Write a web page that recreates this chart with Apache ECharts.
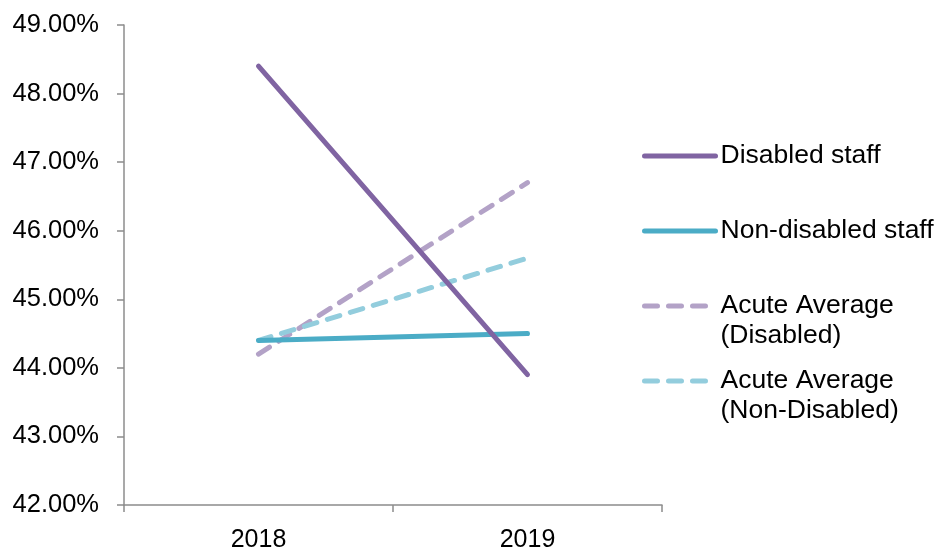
<!DOCTYPE html>
<html>
<head>
<meta charset="utf-8">
<title>Staff percentages 2018–2019</title>
<script src="https://cdn.jsdelivr.net/npm/echarts@6/dist/echarts.min.js"></script>
<style>
  html, body { margin: 0; padding: 0; background: #ffffff; }
  #chart { width: 938px; height: 549px; }
</style>
</head>
<body>
<div id="chart"></div>
<script>
// Years on the category axis
const years = ['2018', '2019'];

// Percentages per series
const disabledStaff = [48.4, 43.9];
const nonDisabledStaff = [44.4, 44.5];
const acuteAvgDisabled = [44.2, 46.7];
const acuteAvgNonDisabled = [44.4, 45.6];

// Series names as shown in the legend
const seriesNames = [
  'Disabled staff',
  'Non-disabled staff',
  'Acute Average\n(Disabled)',
  'Acute Average\n(Non-Disabled)'
];

// Value axis range
const yMin = 42;
const yMax = 49;
const yStep = 1;

const FONT = '"Liberation Sans", Arial, sans-serif';
const AXIS_COLOR = '#8c8c8c';
const LINE_W = 5;
const DASH = [13, 11];

const chart = echarts.init(document.getElementById('chart'), null, { renderer: 'canvas' });

function lineSeries(name, data, color, dashed) {
  return {
    name: name,
    type: 'line',
    data: data,
    symbol: 'none',
    silent: true,
    animation: false,
    lineStyle: {
      color: color,
      width: LINE_W,
      type: dashed ? DASH : 'solid',
      cap: 'round'
    },
    itemStyle: { color: color }
  };
}

// One legend block per entry so each row sits at its own height;
// two-line entries get an empty leading line so the key aligns with the first text line.
function legendItem(name, top, dashed, multiLine) {
  return {
    data: [name],
    left: 642,
    top: top,
    padding: 0,
    itemWidth: 71,
    itemHeight: 2,
    itemGap: 0,
    selectedMode: false,
    itemStyle: { opacity: 0 },
    lineStyle: { width: LINE_W, type: dashed ? DASH : 'solid', cap: 'round' },
    formatter: multiLine ? function (n) { return '\n' + n; } : '{name}',
    textStyle: {
      fontFamily: FONT,
      fontSize: 26.5,
      color: '#000000',
      lineHeight: 30
    }
  };
}

chart.setOption({
  backgroundColor: '#ffffff',
  animation: false,
  grid: {
    left: 124, right: 276, top: 25, bottom: 44,
    containLabel: false,
    outerBoundsMode: 'none'
  },
  xAxis: {
    type: 'category',
    data: years,
    boundaryGap: true,
    axisLine: { lineStyle: { color: AXIS_COLOR, width: 1.5 } },
    axisTick: { show: true, length: 7, lineStyle: { color: AXIS_COLOR, width: 1.5 } },
    axisLabel: { fontFamily: FONT, fontSize: 25, color: '#000000', margin: 23 },
    splitLine: { show: false }
  },
  yAxis: {
    type: 'value',
    min: yMin,
    max: yMax,
    interval: yStep,
    axisLine: { show: true, lineStyle: { color: AXIS_COLOR, width: 1.5 } },
    axisTick: { show: true, length: 7, lineStyle: { color: AXIS_COLOR, width: 1.5 } },
    axisLabel: {
      fontFamily: FONT,
      fontSize: 25.5,
      color: '#000000',
      margin: 25,
      formatter: function (v) { return v.toFixed(2) + '%'; }
    },
    splitLine: { show: false }
  },
  legend: [
    legendItem(seriesNames[0], 141, false, false),
    legendItem(seriesNames[1], 216, false, false),
    legendItem(seriesNames[2], 261, true, true),
    legendItem(seriesNames[3], 336, true, true)
  ],
  series: [
    lineSeries(seriesNames[2], acuteAvgDisabled, '#B3A2C7', true),
    lineSeries(seriesNames[3], acuteAvgNonDisabled, '#93CDDD', true),
    lineSeries(seriesNames[1], nonDisabledStaff, '#4BACC6', false),
    lineSeries(seriesNames[0], disabledStaff, '#8064A2', false)
  ]
});
</script>
</body>
</html>
